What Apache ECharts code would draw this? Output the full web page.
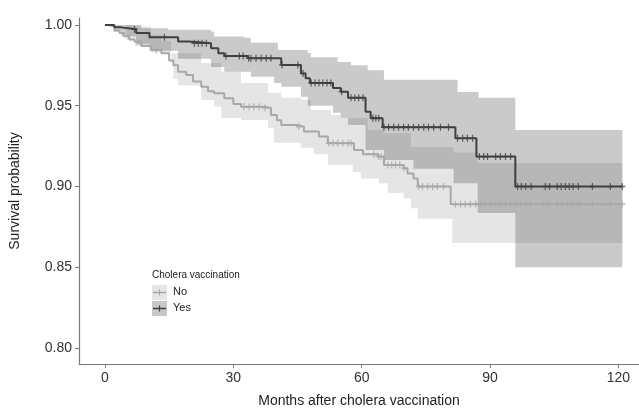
<!DOCTYPE html>
<html><head><meta charset="utf-8">
<script src="https://cdn.jsdelivr.net/npm/echarts@6/dist/echarts.min.js"></script>
<style>html,body{margin:0;padding:0;background:#fff}#c{width:639px;height:415px}</style>
</head><body><div id="c"></div>
<script>
// ---------- data ----------
const groups = ['No', 'Yes'];
const legendTitle = 'Cholera vaccination';
const xTicks = [0, 30, 60, 90, 120];
const yTicks = [0.80, 0.85, 0.90, 0.95, 1.00];
const endTime = 120.9;

// "No" group: event times (months) and survival after each event
const noTimes = [0, 1.0, 2.2, 3.4, 4.5, 5.7, 6.9, 8.5, 10.8, 13.2, 15.0, 16.0, 17.1, 19.0, 20.6, 22.5, 24.1, 25.5, 27.9, 30.0, 31.8, 37.2, 38.8, 40.2, 41.2, 45.1, 46.5, 50.0, 52.1, 58.2, 60.3, 63.8, 65.2, 69.8, 70.7, 72.1, 73.1, 80.8];
const noSurv  = [1.0, 0.999, 0.9965, 0.995, 0.993, 0.991, 0.9897, 0.987, 0.9845, 0.9825, 0.978, 0.975, 0.971, 0.969, 0.965, 0.9618, 0.959, 0.9577, 0.9546, 0.951, 0.9494, 0.9486, 0.9443, 0.941, 0.938, 0.937, 0.934, 0.931, 0.9268, 0.9226, 0.920, 0.9185, 0.9133, 0.9113, 0.908, 0.905, 0.900, 0.889];
const noCensor = [12.0, 32.5, 33.7, 34.8, 36.0, 37.4, 45.3, 52.3, 53.3, 54.4, 55.6, 56.8, 57.5, 62.8, 63.9, 64.5, 66.1, 67.0, 67.9, 68.9, 69.9, 73.3, 74.2, 75.4, 76.6, 77.7, 79.1, 81.9, 83.1, 84.2, 85.4, 86.6, 87.8, 88.9, 90.1, 91.3, 92.4, 93.6, 94.8, 96.0, 97.1, 98.3, 99.4, 102.4, 103.6, 105.7, 106.9, 108.0, 109.2, 110.4, 111.1, 113.9, 118.1, 120.9];
const noLower = [[0, 1.0], [5.0, 0.9905], [6.9, 0.987], [10.8, 0.983], [15.5, 0.977], [16.0, 0.9665], [17.1, 0.9625], [22.5, 0.9536], [25.5, 0.9495], [27.2, 0.9424], [31.8, 0.9412], [38.1, 0.9363], [39.5, 0.927], [45.8, 0.924], [48.8, 0.920], [52.1, 0.9134], [57.9, 0.909], [59.8, 0.905], [64.0, 0.902], [66.1, 0.896], [69.8, 0.8925], [71.5, 0.8865], [73.1, 0.880], [81.2, 0.865]];
const noUpper = [[0, 1.0], [6.2, 0.999], [10.8, 0.994], [13.2, 0.99], [15.5, 0.9825], [22.5, 0.9765], [27.2, 0.971], [31.8, 0.964], [38.1, 0.958], [41.2, 0.955], [45.8, 0.9536], [48.1, 0.9474], [52.8, 0.9443], [55.1, 0.9424], [61.4, 0.935], [65.2, 0.933], [71.5, 0.9245], [81.5, 0.921], [87.1, 0.9146]];

// "Yes" group
const yesTimes = [0, 2.2, 3.8, 7.3, 10.4, 17.1, 19.5, 24.8, 26.5, 27.9, 33.4, 41.2, 45.8, 46.9, 47.9, 53.3, 55.1, 56.8, 60.9, 62.1, 64.9, 81.9, 86.8, 95.9];
const yesSurv  = [1.0, 0.9985, 0.9973, 0.995, 0.9924, 0.9897, 0.9887, 0.9856, 0.9825, 0.9808, 0.9794, 0.9752, 0.970, 0.967, 0.964, 0.961, 0.9587, 0.955, 0.9463, 0.9422, 0.9367, 0.9298, 0.9185, 0.900];
const yesCensor = [6.9, 13.9, 20.9, 21.8, 22.7, 23.7, 28.3, 31.4, 32.3, 33.6, 34.1, 35.3, 36.5, 37.7, 38.8, 41.4, 45.1, 46.3, 48.2, 49.1, 50.0, 50.9, 51.9, 52.8, 55.3, 57.5, 58.4, 59.3, 60.3, 62.6, 63.3, 64.0, 65.2, 66.3, 67.5, 68.6, 69.8, 70.9, 72.1, 73.3, 74.5, 75.6, 76.8, 78.4, 80.3, 82.4, 83.6, 84.7, 85.9, 87.5, 88.5, 89.4, 91.3, 92.4, 93.6, 94.8, 96.4, 97.3, 98.3, 99.6, 102.9, 103.9, 105.7, 106.6, 107.6, 108.5, 109.4, 110.6, 113.9, 118.1, 120.9];
const yesLower = [[0, 1.0], [2.2, 0.996], [3.8, 0.993], [7.3, 0.988], [10.4, 0.984], [17.1, 0.979], [24.8, 0.974], [27.9, 0.971], [34.1, 0.968], [39.5, 0.964], [41.2, 0.9617], [45.8, 0.9555], [47.4, 0.95], [53.3, 0.9457], [55.1, 0.9424], [56.8, 0.938], [60.9, 0.9226], [65.2, 0.9164], [72.1, 0.911], [81.5, 0.902], [87.1, 0.8836], [95.9, 0.850]];
const yesUpper = [[0, 1.0], [8.5, 0.998], [14.8, 0.997], [24.8, 0.996], [25.5, 0.9928], [32.5, 0.992], [34.1, 0.989], [40.4, 0.9845], [47.4, 0.9826], [48.1, 0.980], [54.4, 0.977], [57.5, 0.975], [61.4, 0.972], [65.2, 0.966], [82.4, 0.9585], [87.3, 0.955], [95.9, 0.935]];

// ---------- helpers ----------
const colNo = '#a8a8a8', colYes = '#404040';
function stepAt(times, vals, t) {
  let v = vals[0];
  for (let i = 0; i < times.length; i++) { if (times[i] <= t) v = vals[i]; }
  return v;
}
function stepPts(pairs, end) {
  const pts = [];
  for (let i = 0; i < pairs.length; i++) {
    const nx = i + 1 < pairs.length ? pairs[i + 1][0] : end;
    pts.push([pairs[i][0], pairs[i][1]]);
    pts.push([nx, pairs[i][1]]);
  }
  return pts;
}
function lineData(times, vals, end) {
  const d = times.map((t, i) => [t, vals[i]]);
  d.push([end, vals[vals.length - 1]]);
  return d;
}
function bandSeries(name, lower, upper, fill) {
  return {
    type: 'custom', name: name, z: 1, silent: true,
    data: [[0, 1]],
    renderItem: function (params, api) {
      const up = stepPts(upper, endTime).map(p => api.coord(p));
      const lo = stepPts(lower, endTime).reverse().map(p => api.coord(p));
      return { type: 'polygon', shape: { points: up.concat(lo) }, style: { fill: fill } };
    }
  };
}
const plusSym = 'path://M-0.6,-3L0.6,-3L0.6,-0.6L3,-0.6L3,0.6L0.6,0.6L0.6,3L-0.6,3L-0.6,0.6L-3,0.6L-3,-0.6L-0.6,-0.6Z';

const chart = echarts.init(document.getElementById('c'), null, { renderer: 'canvas' });
const font = 'Liberation Sans, Arial, sans-serif';

chart.setOption({
  animation: false,
  backgroundColor: '#fff',
  grid: { left: 78, right: 0, top: 18, bottom: 51 },
  xAxis: {
    type: 'value', min: -6.06, max: 124.8,
    name: 'Months after cholera vaccination', nameLocation: 'middle', nameGap: 30,
    nameTextStyle: { fontSize: 14, color: '#222', fontFamily: font },
    axisLine: { show: true, onZero: false, lineStyle: { color: '#7a7a7a', width: 1.2 } },
    axisTick: { show: true, length: 4, customValues: xTicks, lineStyle: { color: '#7a7a7a' } },
    axisLabel: { customValues: xTicks, fontSize: 14, color: '#333', margin: 7, fontFamily: font },
    splitLine: { show: false }
  },
  yAxis: {
    type: 'value', min: 0.7901, max: 1.0043,
    name: 'Survival probability', nameLocation: 'middle', nameGap: 57, nameRotate: 90,
    nameTextStyle: { fontSize: 14, color: '#222', fontFamily: font },
    axisLine: { show: true, onZero: false, lineStyle: { color: '#7a7a7a', width: 1.2 } },
    axisTick: { show: true, length: 4, customValues: yTicks, lineStyle: { color: '#7a7a7a' } },
    axisLabel: { customValues: yTicks, fontSize: 14, color: '#333', margin: 7, fontFamily: font,
      formatter: v => v.toFixed(2) },
    splitLine: { show: false }
  },
  series: [
    bandSeries('No band', noLower, noUpper, 'rgba(168,168,168,0.3)'),
    bandSeries('Yes band', yesLower, yesUpper, 'rgba(64,64,64,0.28)'),
    { type: 'line', name: groups[0], step: 'end', showSymbol: false, z: 3, silent: true,
      data: lineData(noTimes, noSurv, endTime), lineStyle: { color: colNo, width: 2 } },
    { type: 'line', name: groups[1], step: 'end', showSymbol: false, z: 4, silent: true,
      data: lineData(yesTimes, yesSurv, endTime), lineStyle: { color: colYes, width: 2 } },
    { type: 'scatter', name: 'No censor', z: 5, silent: true, symbol: plusSym, symbolSize: [6, 7],
      data: noCensor.map(t => [t, stepAt(noTimes, noSurv, t)]), itemStyle: { color: colNo } },
    { type: 'scatter', name: 'Yes censor', z: 6, silent: true, symbol: plusSym, symbolSize: [6, 7],
      data: yesCensor.map(t => [t, stepAt(yesTimes, yesSurv, t)]), itemStyle: { color: colYes } }
  ],
  graphic: [
    { type: 'text', left: 152, top: 270, style: { text: legendTitle, fontSize: 10, fill: '#222', fontFamily: font } },
    { type: 'rect', left: 152, top: 285, shape: { width: 15, height: 15 }, style: { fill: '#e6e6e6' } },
    { type: 'line', shape: { x1: 153, y1: 292.5, x2: 166, y2: 292.5 }, style: { stroke: colNo, lineWidth: 1.5 } },
    { type: 'line', shape: { x1: 159.5, y1: 289.5, x2: 159.5, y2: 295.5 }, style: { stroke: colNo, lineWidth: 1.2 } },
    { type: 'text', left: 173, top: 286, style: { text: groups[0], fontSize: 11, fill: '#222', fontFamily: font } },
    { type: 'rect', left: 152, top: 301, shape: { width: 15, height: 15 }, style: { fill: '#c8c8c8' } },
    { type: 'line', shape: { x1: 153, y1: 308.5, x2: 166, y2: 308.5 }, style: { stroke: colYes, lineWidth: 1.5 } },
    { type: 'line', shape: { x1: 159.5, y1: 305.5, x2: 159.5, y2: 311.5 }, style: { stroke: colYes, lineWidth: 1.2 } },
    { type: 'text', left: 173, top: 302, style: { text: groups[1], fontSize: 11, fill: '#222', fontFamily: font } }
  ]
});
</script></body></html>
